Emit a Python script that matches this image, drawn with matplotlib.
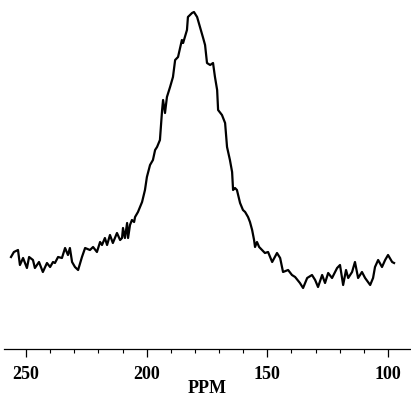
import matplotlib
matplotlib.use("Agg")
import matplotlib.pyplot as plt
from matplotlib.ticker import MultipleLocator

# chemical shift (ppm) and intensity (arbitrary units)
ppm = [256.2, 255.0, 253.3, 252.5, 251.2, 249.6, 248.7, 247.1, 246.3, 244.6,
       243.0, 241.3, 240.0, 238.8, 238.0, 236.7, 235.1, 233.8, 232.6, 231.8,
       230.9, 229.7, 228.4, 226.8, 225.5, 223.5, 222.2, 220.6, 219.3, 218.5,
       217.3, 216.4, 215.2, 214.0, 212.3, 211.0, 210.2, 209.8, 209.0, 208.1,
       207.7, 206.9, 206.1, 205.2, 204.8, 203.6, 201.9, 200.7, 199.9, 198.6,
       197.4, 196.5, 195.7, 194.5, 193.6, 193.2, 192.4, 191.6, 190.3, 189.1,
       188.2, 187.0, 185.4, 184.9, 183.3, 182.9, 181.2, 180.4, 179.1, 177.9,
       176.6, 175.8, 175.0, 173.7, 172.5, 171.7, 170.8, 170.4, 168.8, 167.5,
       166.7, 165.5, 164.6, 164.2, 163.4, 162.6, 161.3, 160.1, 159.2, 158.0,
       157.2, 156.3, 155.5, 155.1, 154.3, 153.4, 152.2, 151.0, 149.7, 148.0,
       146.0, 144.7, 143.5, 141.4, 139.8, 138.5, 136.5, 135.2, 133.5, 131.5,
       130.2, 129.0, 127.3, 126.1, 124.8, 123.2, 121.1, 119.9, 118.6, 117.4,
       116.5, 114.9, 113.7, 112.4, 110.8, 109.5, 107.4, 106.2, 105.4, 104.1,
       102.5, 101.2, 100.0, 98.3, 97.5]
intensity = [93, 98, 100, 85, 92, 82, 93, 90, 82, 88,
             78, 87, 83, 88, 87, 93, 92, 102, 95, 102,
             88, 83, 80, 93, 102, 100, 103, 98, 108, 105,
             112, 105, 115, 107, 117, 110, 112, 122, 112, 127,
             112, 125, 130, 128, 133, 138, 148, 160, 173, 185,
             190, 200, 203, 210, 240, 250, 237, 253, 263, 273,
             290, 293, 310, 307, 320, 333, 337, 338, 333, 323,
             312, 305, 287, 285, 287, 273, 260, 240, 235, 227,
             203, 190, 178, 160, 162, 160, 147, 140, 138, 133,
             128, 120, 110, 103, 108, 103, 100, 97, 98, 88,
             97, 92, 78, 80, 75, 73, 67, 62, 72, 75,
             70, 63, 75, 67, 77, 72, 82, 85, 65, 80,
             72, 78, 88, 72, 78, 72, 65, 72, 83, 90,
             83, 90, 95, 88, 87]

fig = plt.figure(figsize=(4.11, 4.0), dpi=100)
ax = fig.add_axes([4 / 411, 51 / 400, 406 / 411, 344 / 400])
ax.plot(ppm, intensity, color="black", lw=1.6)

ax.set_xlim(259.1, 90.9)
ax.set_ylim(1, 345)
for s in ("top", "left", "right"):
    ax.spines[s].set_visible(False)
ax.spines["bottom"].set_linewidth(0.9)
ax.set_yticks([])
ax.xaxis.set_major_locator(MultipleLocator(50))
ax.xaxis.set_minor_locator(MultipleLocator(10))
ax.tick_params(axis="x", which="major", direction="out", length=6, width=0.9, pad=6)
ax.tick_params(axis="x", which="minor", direction="out", length=3, width=0.8)
for lab in ax.get_xticklabels():
    lab.set_fontfamily("Liberation Serif")
    lab.set_fontweight("bold")
    lab.set_fontsize(13)
ax.set_xlabel("PPM", fontfamily="Liberation Serif", fontweight="bold",
              fontsize=13, labelpad=-2)

fig.savefig("out.png", dpi=100)
